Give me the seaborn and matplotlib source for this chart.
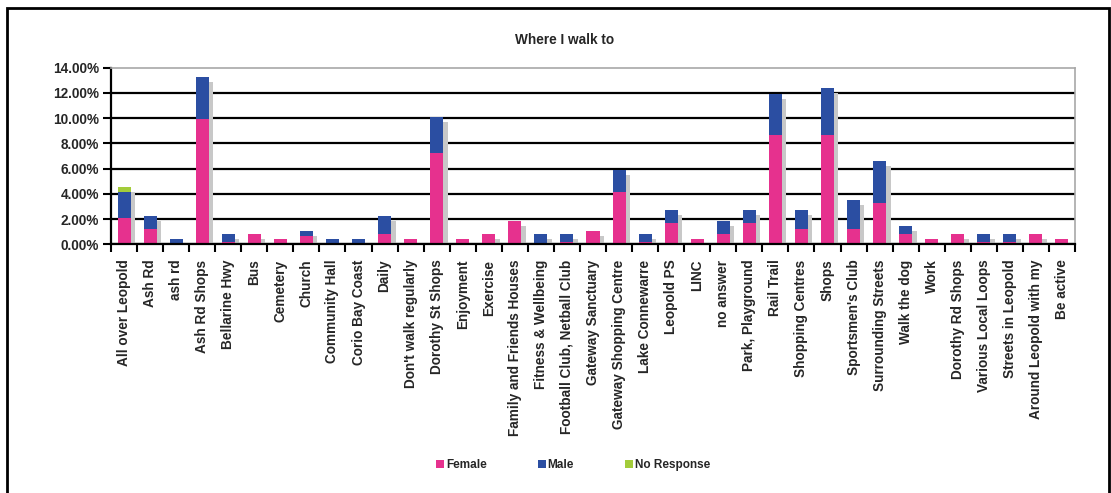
import numpy as np
import matplotlib
matplotlib.use("Agg")
import matplotlib.pyplot as plt
from matplotlib import patheffects as pe
from matplotlib.patches import Patch, Rectangle
from matplotlib.ticker import PercentFormatter
import seaborn as sns

# Destinations (in survey order)
categories = [
    "All over Leopold", "Ash Rd", "ash rd", "Ash Rd Shops", "Bellarine Hwy", "Bus",
    "Cemetery", "Church", "Community Hall", "Corio Bay Coast", "Daily",
    "Don't walk regularly", "Dorothy St Shops", "Enjoyment", "Exercise",
    "Family and Friends Houses", "Fitness & Wellbeing", "Football Club, Netball Club",
    "Gateway Sanctuary", "Gateway Shopping Centre", "Lake Connewarre", "Leopold PS",
    "LINC", "no answer", "Park, Playground", "Rail Trail", "Shopping Centres", "Shops",
    "Sportsmen's Club", "Surrounding Streets", "Walk the dog", "Work",
    "Dorothy Rd Shops", "Various Local Loops", "Streets in Leopold",
    "Around Leopold with my", "Be active",
]

# Share of responses (%) by respondent group
female = [2.06, 1.21, 0.00, 9.95, 0.21, 0.84, 0.42, 0.63, 0.00, 0.00, 0.84, 0.42,
          7.20, 0.42, 0.84, 1.85, 0.00, 0.21, 1.05, 4.14, 0.21, 1.66, 0.42, 0.84,
          1.66, 8.65, 1.24, 8.65, 1.24, 3.30, 0.84, 0.42, 0.84, 0.21, 0.21, 0.84, 0.42]
male = [2.05, 1.06, 0.42, 3.28, 0.63, 0.00, 0.00, 0.42, 0.42, 0.42, 1.43, 0.00,
        2.90, 0.00, 0.00, 0.00, 0.84, 0.63, 0.00, 1.74, 0.63, 1.03, 0.00, 1.01,
        1.03, 3.29, 1.45, 3.69, 2.27, 3.32, 0.61, 0.00, 0.00, 0.63, 0.63, 0.00, 0.00]
no_response = [0.42] + [0.00] * 36

series_names = ["Female", "Male", "No Response"]
series_colors = ["#E6318E", "#2B4EA2", "#A3CC3A"]

sns.set_style("white")
plt.rcParams["font.family"] = ["Liberation Sans", "DejaVu Sans"]
plt.rcParams["font.weight"] = "bold"

fig = plt.figure(figsize=(11.11, 4.93), dpi=100)
ax = fig.add_axes([0.0999, 0.5045, 0.8677, 0.3585])

f = np.array(female)
m = np.array(male)
n = np.array(no_response)
layers = [f + m + n, f + m, f]
layer_colors = [series_colors[2], series_colors[1], series_colors[0]]

# Stacked columns: draw cumulative totals tallest first so each segment shows
for heights, col in zip(layers, layer_colors):
    sns.barplot(x=categories, y=heights, color=col, width=0.5, saturation=1,
                errorbar=None, ax=ax, linewidth=0)

shadow = [pe.SimplePatchShadow(offset=(3.2, -3.6), shadow_rgbFace="#c8c8c8", alpha=1.0),
          pe.Normal()]
for p in ax.patches:
    p.set_path_effects(shadow)

ax.set_ylim(0, 14)
ax.set_xlim(-0.5, len(categories) - 0.5)
ax.set_yticks(np.arange(0, 15, 2))
ax.yaxis.set_major_formatter(PercentFormatter(xmax=100, decimals=2))
ax.set_xlabel("")
ax.set_ylabel("")

ax.set_axisbelow(True)
ax.yaxis.grid(True, color="black", linewidth=1.6)
ax.xaxis.grid(False)
ax.get_ygridlines()[-1].set_visible(False)

ax.set_xticks(range(len(categories)))
ax.set_xticklabels(categories, rotation=90, fontsize=9.8, fontweight="bold")
ax.set_xticks(np.arange(-0.5, len(categories)), minor=True)
ax.tick_params(axis="x", which="major", length=0, pad=11)
ax.tick_params(axis="x", which="minor", direction="out", length=6, width=1.5,
               color="black", bottom=True)
ax.tick_params(axis="y", direction="out", length=6, width=1.5, color="black",
               labelsize=9.8, pad=2.5, left=True)
for lab in ax.get_yticklabels():
    lab.set_fontweight("bold")

for side in ("left", "bottom"):
    ax.spines[side].set_color("black")
    ax.spines[side].set_linewidth(1.6)
for side in ("top", "right"):
    ax.spines[side].set_color("#a8a8a8")
    ax.spines[side].set_linewidth(1.2)

fig.text(565 / 1111, 1 - 40 / 493, "Where I walk to", ha="center", va="center",
         fontsize=9.8, fontweight="bold")

handles = [Patch(facecolor=c, edgecolor="none") for c in series_colors]
fig.legend(handles, series_names, loc="center", ncol=3,
           bbox_to_anchor=(573 / 1111, 1 - 465 / 493), frameon=False,
           fontsize=8.5, handlelength=0.7, handleheight=0.7, handletextpad=0.15,
           columnspacing=4.3)

fig.patches.append(Rectangle((7 / 1111, -0.02), (1109 - 7) / 1111, 1.02 - 8 / 493,
                             transform=fig.transFigure, fill=False,
                             edgecolor="black", linewidth=2))

fig.savefig("out.png", dpi=100)
